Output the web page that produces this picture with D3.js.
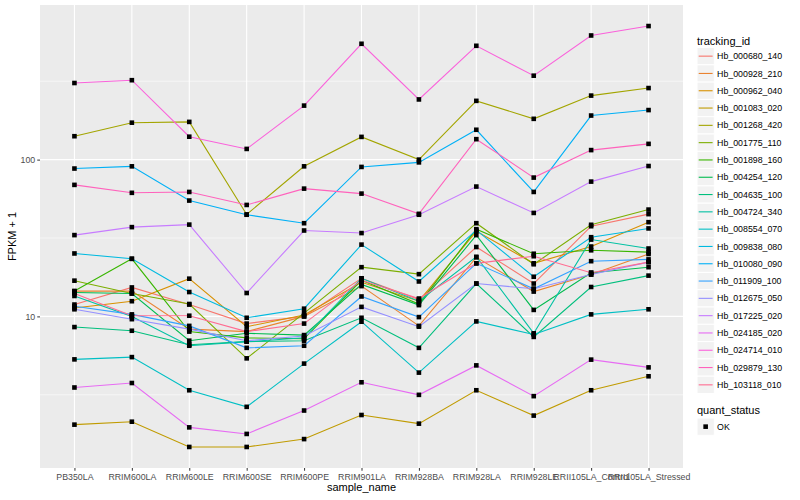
<!DOCTYPE html>
<html>
<head>
<meta charset="utf-8">
<script src="https://cdn.jsdelivr.net/npm/d3@7"></script>
<style>
  body { margin: 0; background: #fff; }
  svg { display: block; font-family: "Liberation Sans", Arial, sans-serif; }
</style>
</head>
<body>
<svg id="chart" width="800" height="500"></svg>
<script>
const samples = ['PB350LA', 'RRIM600LA', 'RRIM600LE', 'RRIM600SE', 'RRIM600PE', 'RRIM901LA',
    'RRIM928BA', 'RRIM928LA', 'RRIM928LE', 'RRII105LA_Control', 'RRII105LA_Stressed']

const trackingIds = ['Hb_000680_140', 'Hb_000928_210', 'Hb_000962_040', 'Hb_001083_020',
    'Hb_001268_420', 'Hb_001775_110', 'Hb_001898_160', 'Hb_004254_120', 'Hb_004635_100',
    'Hb_004724_340', 'Hb_008554_070', 'Hb_009838_080', 'Hb_010080_090', 'Hb_011909_100',
    'Hb_012675_050', 'Hb_017225_020', 'Hb_024185_020', 'Hb_024714_010', 'Hb_029879_130',
    'Hb_103118_010']

// FPKM + 1, one row per tracking_id, one value per sample
const fpkm = [
    [11.9, 15.3, 11.9, 9.0, 10.0, 17.5, 12.8, 27.7, 16.2, 37.6, 44.9],
    [14.5, 14.5, 8.3, 8.0, 10.0, 15.6, 8.7, 23.8, 14.4, 18.5, 25.0],
    [11.3, 12.5, 17.4, 8.6, 10.2, 16.5, 12.5, 34.9, 21.8, 27.9, 39.9],
    [2.04, 2.13, 1.47, 1.47, 1.65, 2.35, 2.07, 3.38, 2.33, 3.38, 4.15],
    [141, 172, 174, 44.7, 90.6, 139.6, 100, 237, 182, 256, 286],
    [16.9, 14.0, 12.0, 5.4, 10.5, 20.6, 18.6, 39.3, 21.5, 38.4, 48.0],
    [14.5, 23.3, 8.0, 7.3, 7.2, 17.0, 12.0, 36.0, 25.1, 26.4, 25.7],
    [14.2, 14.0, 7.0, 7.8, 7.6, 16.0, 11.8, 33.0, 11.0, 19.0, 20.6],
    [8.55, 8.1, 6.6, 6.9, 7.0, 9.8, 6.3, 16.2, 7.4, 15.4, 18.2],
    [13.5, 10.0, 6.5, 6.9, 7.3, 17.5, 12.5, 24.0, 7.8, 30.9, 27.1],
    [5.32, 5.50, 3.38, 2.65, 5.00, 9.25, 4.38, 9.29, 7.67, 10.3, 11.1],
    [25.2, 23.3, 14.3, 9.8, 11.2, 28.7, 16.7, 35.5, 17.9, 32.0, 36.4],
    [87.7, 90.6, 54.8, 44.5, 39.3, 89.8, 96, 155, 62.2, 191, 207],
    [11.6, 10.3, 8.7, 6.3, 6.5, 13.4, 9.9, 21.8, 15.0, 22.5, 23.1],
    [11.1, 9.6, 8.3, 7.0, 7.5, 11.5, 8.6, 16.2, 15.0, 18.5, 22.2],
    [33, 37.1, 38.5, 14.1, 35.3, 34, 44.5, 67.3, 45.7, 72.4, 91],
    [3.52, 3.76, 1.96, 1.78, 2.51, 3.80, 3.16, 4.87, 3.10, 5.30, 4.73],
    [308, 321, 140, 117, 221, 548, 242, 532, 343, 619, 711],
    [69, 61.4, 62.2, 51.4, 65.3, 60.7, 45.1, 135, 76.8, 115, 126],
    [14.0, 10.1, 10.1, 8.0, 9.0, 17.0, 13.0, 21.8, 24.2, 19.0, 22.2]
]

const yTicks = [10, 100]
const yMinor = [Math.pow(10, 0.5), Math.pow(10, 1.5), Math.pow(10, 2.5)]

// ggplot hue palette for 20 levels
const palette = ['#F8766D', '#EA8331', '#D89000', '#C09B00', '#A3A500', '#7CAE00', '#39B600',
    '#00BB4E', '#00BF7D', '#00C1A3', '#00BFC4', '#00BAE0', '#00B0F6', '#35A2FF', '#9590FF',
    '#C77CFF', '#E76BF3', '#FA62DB', '#FF62BC', '#FF6C91']

const svg = d3.select('#chart')
const panel = { left: 40, right: 683, top: 5, bottom: 468 }

const series = trackingIds.map((id, i) => ({
    id: id,
    values: samples.map((s, j) => ({ sample: s, value: fpkm[i][j] }))
}))

const x = d3.scalePoint()
    .domain(samples)
    .range([panel.left, panel.right])
    .padding(0.6)

// log scale with ggplot-like 5% expansion in log space
const allVals = fpkm.flat()
const lmin = Math.log10(d3.min(allVals))
const lmax = Math.log10(d3.max(allVals))
const ext = (lmax - lmin) * 0.05
const y = d3.scaleLog()
    .domain([Math.pow(10, lmin - ext), Math.pow(10, lmax + ext)])
    .range([panel.bottom, panel.top])

const color = d3.scaleOrdinal().domain(trackingIds).range(palette)

// panel background and grid
svg.append('rect')
    .attr('x', panel.left).attr('y', panel.top)
    .attr('width', panel.right - panel.left)
    .attr('height', panel.bottom - panel.top)
    .attr('fill', '#EBEBEB')

svg.append('g').selectAll('line')
    .data(yMinor)
    .join('line')
    .attr('x1', panel.left).attr('x2', panel.right)
    .attr('y1', d => y(d)).attr('y2', d => y(d))
    .attr('stroke', '#fff').attr('stroke-width', 0.55)

svg.append('g').selectAll('line')
    .data(yTicks)
    .join('line')
    .attr('x1', panel.left).attr('x2', panel.right)
    .attr('y1', d => y(d)).attr('y2', d => y(d))
    .attr('stroke', '#fff').attr('stroke-width', 1.1)

svg.append('g').selectAll('line')
    .data(samples)
    .join('line')
    .attr('x1', d => x(d)).attr('x2', d => x(d))
    .attr('y1', panel.top).attr('y2', panel.bottom)
    .attr('stroke', '#fff').attr('stroke-width', 1.1)

// lines
const line = d3.line()
    .x(d => x(d.sample))
    .y(d => y(d.value))

svg.append('g').selectAll('path')
    .data(series)
    .join('path')
    .attr('d', d => line(d.values))
    .attr('fill', 'none')
    .attr('stroke', d => color(d.id))
    .attr('stroke-width', 1.1)

// points (filled squares)
const pts = series.flatMap(s => s.values)
svg.append('g').selectAll('rect')
    .data(pts)
    .join('rect')
    .attr('x', d => x(d.sample) - 2.3)
    .attr('y', d => y(d.value) - 2.3)
    .attr('width', 4.6)
    .attr('height', 4.6)
    .attr('fill', '#000')

// axes
const yAxis = d3.axisLeft(y).tickValues(yTicks).tickFormat(d3.format('d')).tickSize(2.75).tickPadding(2)
const gy = svg.append('g')
    .attr('transform', `translate(${panel.left},0)`)
    .call(yAxis)
gy.select('.domain').remove()
gy.selectAll('line').attr('stroke', '#333')
gy.selectAll('text').attr('fill', '#4D4D4D').attr('font-size', 8.8)

const xAxis = d3.axisBottom(x).tickSize(2.75).tickPadding(3)
const gx = svg.append('g')
    .attr('transform', `translate(0,${panel.bottom})`)
    .call(xAxis)
gx.select('.domain').remove()
gx.selectAll('line').attr('stroke', '#333')
gx.selectAll('text').attr('fill', '#4D4D4D').attr('font-size', 8.8)

svg.append('text')
    .attr('x', (panel.left + panel.right) / 2)
    .attr('y', 491)
    .attr('text-anchor', 'middle')
    .attr('font-size', 11)
    .text('sample_name')

svg.append('text')
    .attr('transform', `translate(16,${(panel.top + panel.bottom) / 2}) rotate(-90)`)
    .attr('text-anchor', 'middle')
    .attr('font-size', 11)
    .text('FPKM + 1')

// legend: tracking_id
const legX = 697
const keySize = 17.3
const leg = svg.append('g')
leg.append('text')
    .attr('x', legX).attr('y', 44.5)
    .attr('font-size', 11)
    .text('tracking_id')

const item = leg.selectAll('g.item')
    .data(trackingIds)
    .join('g')
    .attr('class', 'item')
    .attr('transform', (d, i) => `translate(${legX},${47.5 + i * keySize})`)

item.append('rect')
    .attr('width', keySize).attr('height', keySize)
    .attr('fill', '#F2F2F2').attr('stroke', '#fff').attr('stroke-width', 1)
item.append('line')
    .attr('x1', 1.7).attr('x2', keySize - 1.7)
    .attr('y1', keySize / 2).attr('y2', keySize / 2)
    .attr('stroke', d => color(d)).attr('stroke-width', 1.1)
item.append('text')
    .attr('x', keySize + 2.8).attr('y', keySize / 2 + 3.1)
    .attr('font-size', 8.8)
    .text(d => d)

// legend: quant_status
const leg2 = svg.append('g')
leg2.append('text')
    .attr('x', legX).attr('y', 414)
    .attr('font-size', 11)
    .text('quant_status')
const k2 = leg2.append('g').attr('transform', `translate(${legX},418)`)
k2.append('rect')
    .attr('width', keySize).attr('height', keySize)
    .attr('fill', '#F2F2F2').attr('stroke', '#fff').attr('stroke-width', 1)
k2.append('rect')
    .attr('x', keySize / 2 - 2.3).attr('y', keySize / 2 - 2.3)
    .attr('width', 4.6).attr('height', 4.6)
    .attr('fill', '#000')
k2.append('text')
    .attr('x', keySize + 2.8).attr('y', keySize / 2 + 3.1)
    .attr('font-size', 8.8)
    .text('OK')
</script>
</body>
</html>
